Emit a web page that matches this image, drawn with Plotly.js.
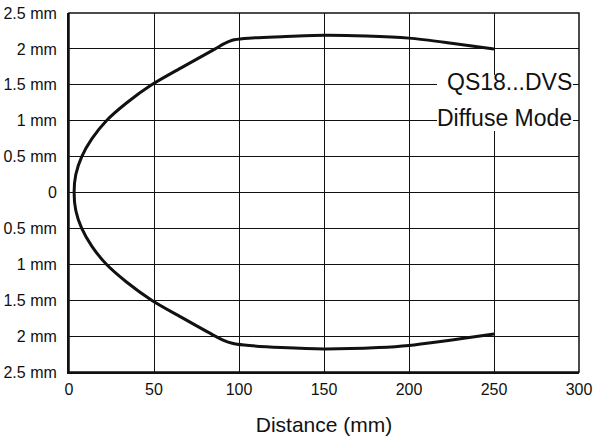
<!DOCTYPE html>
<html>
<head>
<meta charset="utf-8">
<script src="https://cdn.plot.ly/plotly-3.0.1.min.js"></script>
<style>html,body{margin:0;padding:0;background:#fff}#chart{width:603px;height:441px}</style>
</head>
<body>
<div id="chart"></div>
<script>
// Beam pattern outline (distance mm, beam half-width mm)
const distance = [250, 225, 200, 175, 150, 125, 103, 96, 91, 86, 67, 48.6, 34, 22, 13.5, 7.5, 4, 3,
                  4, 7.5, 13.5, 22, 34, 48.6, 67, 86, 91, 96, 103, 125, 150, 182, 200, 250];
const width    = [2.0, 2.08, 2.15, 2.18, 2.19, 2.17, 2.145, 2.12, 2.07, 2.0, 1.75, 1.5, 1.25, 1.0, 0.75, 0.5, 0.25, 0,
                  -0.25, -0.5, -0.75, -1.0, -1.25, -1.5, -1.75, -2.0, -2.06, -2.10, -2.125, -2.16, -2.18, -2.16, -2.13, -1.97];

const yTickVals = [-2.5, -2, -1.5, -1, -0.5, 0, 0.5, 1, 1.5, 2, 2.5];
const yTickText = ["2.5 mm", "2 mm", "1.5 mm", "1 mm", "0.5 mm", "0", "0.5 mm", "1 mm", "1.5 mm", "2 mm", "2.5 mm"];
const xTickVals = [0, 50, 100, 150, 200, 250, 300];
const xTitle = "Distance (mm)";
const labelLine1 = "QS18...DVS";
const labelLine2 = "Diffuse Mode";

const fnt = "'Liberation Sans', Arial, sans-serif";

const trace = {
  x: distance, y: width, type: 'scatter', mode: 'lines',
  line: {color: '#111', width: 3, shape: 'spline', smoothing: 0.8},
  hoverinfo: 'skip'
};

const layout = {
  width: 603, height: 441,
  margin: {l: 69, r: 24, t: 13, b: 69},
  paper_bgcolor: '#fff', plot_bgcolor: '#fff',
  showlegend: false,
  font: {family: fnt, color: '#111'},
  xaxis: {
    range: [0, 300], tickvals: xTickVals, ticktext: xTickVals.map(String),
    showgrid: true, gridcolor: '#111', gridwidth: 1,
    zeroline: false, showline: true, linecolor: '#111', linewidth: 2,
    ticks: '', ticklabelstandoff: 2,
    tickfont: {size: 16, family: fnt, color: '#111'},
    title: {text: xTitle, font: {size: 21, family: fnt, color: '#111'}, standoff: 20}
  },
  yaxis: {
    range: [-2.5, 2.5], tickvals: yTickVals, ticktext: yTickText,
    showgrid: true, gridcolor: '#111', gridwidth: 1,
    zeroline: false, showline: true, linecolor: '#111', linewidth: 2,
    ticks: '', ticklabelstandoff: 7,
    tickfont: {size: 16, family: fnt, color: '#111'}
  },
  shapes: [
    {type: 'rect', xref: 'paper', yref: 'paper', x0: 0.7216, x1: 0.988, y0: 0.671, y1: 0.827,
     line: {width: 0}, fillcolor: '#fff', layer: 'above'},
    {type: 'rect', xref: 'paper', yref: 'paper', x0: 0, x1: 1, y0: 0, y1: 1,
     line: {color: '#111', width: 1.5}, fillcolor: 'rgba(0,0,0,0)', layer: 'above'}
  ],
  annotations: [
    {xref: 'paper', yref: 'paper', x: 0.988, y: 0.807, xanchor: 'right', yanchor: 'middle',
     text: labelLine1, showarrow: false, align: 'right',
     font: {size: 23, family: fnt, color: '#111'}, borderpad: 0},
    {xref: 'paper', yref: 'paper', x: 0.988, y: 0.707, xanchor: 'right', yanchor: 'middle',
     text: labelLine2, showarrow: false, align: 'right',
     font: {size: 23, family: fnt, color: '#111'}, borderpad: 0}
  ]
};

Plotly.newPlot('chart', [trace], layout, {staticPlot: true, displayModeBar: false});
</script>
</body>
</html>
